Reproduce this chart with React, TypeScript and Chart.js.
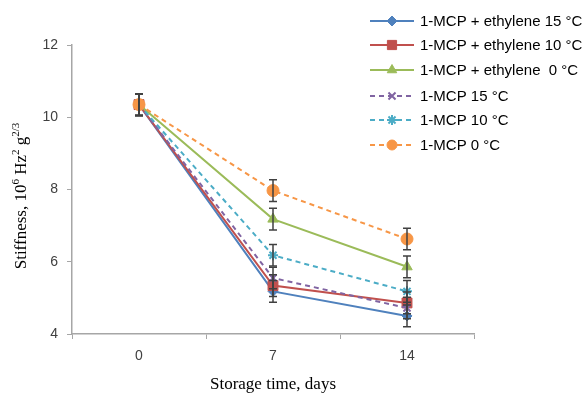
import React, { useEffect, useRef } from "react";
import { Chart, registerables } from "chart.js";
import { drawPoint } from "chart.js/helpers";

Chart.register(...registerables);

const categories = ["0", "7", "14"];
const seriesNames = [
  "1-MCP + ethylene 15 °C",
  "1-MCP + ethylene 10 °C",
  "1-MCP + ethylene  0 °C",
  "1-MCP 15 °C",
  "1-MCP 10 °C",
  "1-MCP 0 °C",
];
const mcpEth15 = [10.35, 5.18, 4.5];
const mcpEth10 = [10.35, 5.34, 4.86];
const mcpEth0 = [10.35, 7.18, 5.86];
const mcp15 = [10.35, 5.55, 4.72];
const mcp10 = [10.35, 6.18, 5.18];
const mcp0 = [10.35, 7.97, 6.63];
const errors = [0.3, 0.3, 0.3];
const yTicks = [4, 6, 8, 10, 12];

const colors = ["#4F81BD", "#C0504D", "#9BBB59", "#8064A2", "#4BACC6", "#F79646"];
const styles = ["rectRot", "rect", "triangle", "crossRot", "star", "circle"];
const radii = [5, 7, 6, 5, 5, 6];
const legendRadii = [5, 6.5, 5.5, 5, 5, 5];
const dashed = [false, false, false, true, true, true];

export default function App() {
  const ref = useRef<HTMLCanvasElement>(null);
  useEffect(() => {
    const values = [mcpEth15, mcpEth10, mcpEth0, mcp15, mcp10, mcp0];
    const datasets = values.map((d, i) => ({
      label: seriesNames[i],
      data: d,
      borderColor: colors[i],
      backgroundColor: colors[i],
      borderWidth: 2,
      borderDash: dashed[i] ? [5, 4] : [],
      pointStyle: styles[i],
      pointRadius: radii[i],
      pointBorderWidth: styles[i] === "crossRot" || styles[i] === "star" ? 2 : 1,
      pointBorderColor: colors[i],
      pointBackgroundColor: colors[i],
      tension: 0,
      order: 5 - i,
    }));

    const customPlugin = {
      id: "custom",
      afterDatasetsDraw(chart: any) {
        const ctx = chart.ctx;
        const xs = chart.scales.x;
        const ys = chart.scales.y;
        ctx.save();
        ctx.strokeStyle = "#404040";
        ctx.lineWidth = 1.5;
        values.forEach((d) => {
          d.forEach((v, j) => {
            const x = xs.getPixelForValue(j);
            const y1 = ys.getPixelForValue(v + errors[j]);
            const y2 = ys.getPixelForValue(v - errors[j]);
            ctx.beginPath();
            ctx.moveTo(x, y1);
            ctx.lineTo(x, y2);
            ctx.moveTo(x - 4, y1);
            ctx.lineTo(x + 4, y1);
            ctx.moveTo(x - 4, y2);
            ctx.lineTo(x + 4, y2);
            ctx.stroke();
          });
        });
        ctx.restore();
      },
      afterDraw(chart: any) {
        const ctx = chart.ctx;
        ctx.save();
        // x title
        ctx.fillStyle = "#000";
        ctx.font = "17px 'Liberation Serif'";
        ctx.textAlign = "center";
        ctx.textBaseline = "middle";
        const ca = chart.chartArea;
        ctx.fillText("Storage time, days", (ca.left + ca.right) / 2, 385);
        // y title with superscripts
        const parts: [string, boolean][] = [
          ["Stiffness, 10", false],
          ["6", true],
          [" Hz", false],
          ["2", true],
          [" g", false],
          ["2/3", true],
        ];
        const mainFont = "17px 'Liberation Serif'";
        const supFont = "11px 'Liberation Serif'";
        let total = 0;
        parts.forEach(([t, s]) => {
          ctx.font = s ? supFont : mainFont;
          total += ctx.measureText(t).width;
        });
        ctx.translate(22, 196);
        ctx.rotate(-Math.PI / 2);
        ctx.textAlign = "left";
        let px = -total / 2;
        parts.forEach(([t, s]) => {
          ctx.font = s ? supFont : mainFont;
          ctx.fillText(t, px, s ? -6 : 0);
          px += ctx.measureText(t).width;
        });
        ctx.setTransform(1, 0, 0, 1, 0, 0);
        // legend
        const rows = [21, 45, 70, 96, 120, 145];
        ctx.font = "15px 'Liberation Sans'";
        ctx.textBaseline = "middle";
        ctx.textAlign = "left";
        seriesNames.forEach((name, i) => {
          const y = rows[i];
          ctx.strokeStyle = colors[i];
          ctx.lineWidth = 2;
          ctx.setLineDash(dashed[i] ? [5, 4] : []);
          ctx.beginPath();
          ctx.moveTo(370, y);
          ctx.lineTo(414, y);
          ctx.stroke();
          ctx.setLineDash([]);
          ctx.fillStyle = colors[i];
          ctx.lineWidth = styles[i] === "crossRot" || styles[i] === "star" ? 2 : 1;
          drawPoint(ctx, { pointStyle: styles[i], radius: legendRadii[i], rotation: 0, borderWidth: ctx.lineWidth }, 392, y);
          ctx.fillStyle = "#000";
          ctx.fillText(name, 420, y + 1);
        });
        ctx.restore();
      },
    };

    const chart = new Chart(ref.current!, {
      type: "line",
      data: { labels: categories, datasets },
      plugins: [customPlugin],
      options: {
        animation: false,
        responsive: false,
        layout: { padding: { left: 0, top: 45, right: 114, bottom: 0 } },
        plugins: { legend: { display: false }, tooltip: { enabled: false } },
        scales: {
          x: {
            offset: true,
            grid: {
              offset: true,
              drawOnChartArea: false,
              drawTicks: true,
              tickLength: 5,
              color: "#A6A6A6",
            },
            border: { color: "#A6A6A6", width: 1.5 },
            ticks: { font: { family: "'Liberation Sans'", size: 14 }, color: "#404040", padding: 9 },
            afterFit: (s: any) => {
              s.height = 63;
            },
          },
          y: {
            min: 4,
            max: 12,
            afterBuildTicks: (s: any) => {
              s.ticks = yTicks.map((v) => ({ value: v }));
            },
            grid: {
              drawOnChartArea: false,
              drawTicks: true,
              tickLength: 5,
              color: "#A6A6A6",
            },
            border: { color: "#A6A6A6", width: 1.5 },
            ticks: { font: { family: "'Liberation Sans'", size: 14 }, color: "#404040", padding: 9 },
            afterFit: (s: any) => {
              s.width = 72;
            },
          },
        },
      },
    });
    return () => chart.destroy();
  }, []);
  return (
    <div style={{ position: "absolute", left: 0, top: 0, width: 588, height: 397, background: "#fff" }}>
      <canvas ref={ref} width={588} height={397} style={{ display: "block" }} />
    </div>
  );
}
